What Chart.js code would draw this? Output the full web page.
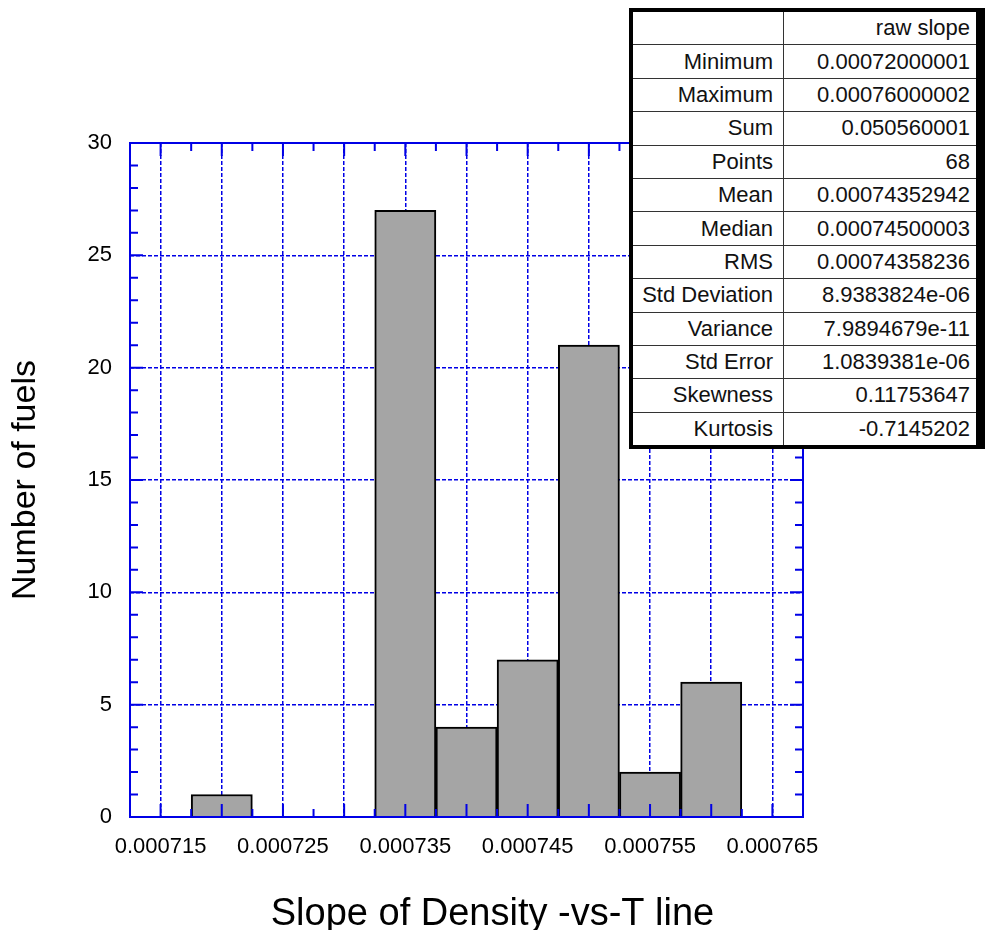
<!DOCTYPE html>
<html lang="en">
<head>
    <meta charset="UTF-8">
    <title>Slope histogram</title>
    <script src="https://cdn.jsdelivr.net/npm/chart.js"></script>
    <style>
        body { margin: 0; background: #fff; }
        #wrap { position: relative; width: 985px; height: 930px; }
        #chart { display: block; }
        #stats {
            position: absolute; left: 629px; top: 8px; width: 356px;
            border-collapse: collapse; background: #fff;
            border-top: 4px solid #000; border-left: 4px solid #000; border-bottom: 4px solid #000; border-right: 9px solid #000;
            font-family: "Liberation Sans", Arial, sans-serif; font-size: 22px; color: #111;
        }
        #stats td { border: 1px solid #333; height: 32.4px; padding: 0 6px 0 0; text-align: right; line-height: 1; }
        #stats td:first-child { width: 140px; padding-right: 10px; }
    </style>
</head>
<body>
<div id="wrap">
    <canvas id="chart" width="985" height="930"></canvas>
    <table id="stats"></table>
</div>

<script>
    // histogram bins (bin centres) and counts
    const binCentres = [0.00072, 0.000735, 0.00074, 0.000745, 0.00075, 0.000755, 0.00076];
    const counts = [1, 27, 4, 7, 21, 2, 6];

    // axis ticks
    const xGridTicks = [0.000715, 0.00072, 0.000725, 0.00073, 0.000735, 0.00074, 0.000745, 0.00075, 0.000755, 0.00076, 0.000765];
    const xTickLabels = ['0.000715', '0.000725', '0.000735', '0.000745', '0.000755', '0.000765'];
    const yTicks = [0, 5, 10, 15, 20, 25, 30];

    // statistics table
    const statHeader = 'raw slope';
    const statNames = ['Minimum', 'Maximum', 'Sum', 'Points', 'Mean', 'Median', 'RMS', 'Std Deviation', 'Variance', 'Std Error', 'Skewness', 'Kurtosis'];
    const statValues = ['0.00072000001', '0.00076000002', '0.050560001', '68', '0.00074352942', '0.00074500003', '0.00074358236', '8.9383824e-06', '7.9894679e-11', '1.0839381e-06', '0.11753647', '-0.7145202'];

    const blue = '#0000e6';
    const font = '"Liberation Sans", Arial, sans-serif';

    // fill the table
    const table = document.getElementById('stats');
    let html = '<tr><td></td><td>' + statHeader + '</td></tr>';
    statNames.forEach((name, i) => {
        html += '<tr><td>' + name + '</td><td>' + statValues[i] + '</td></tr>';
    });
    table.innerHTML = html;

    // frame + inward tick marks like the original plot
    const frameTicks = {
        id: 'frameTicks',
        afterDatasetsDraw(chart) {
            const ctx = chart.ctx;
            const a = chart.chartArea;
            const xs = chart.scales.x;
            const ys = chart.scales.y;
            ctx.save();
            ctx.strokeStyle = blue;
            ctx.lineWidth = 2;
            ctx.beginPath();
            // x ticks, major at grid, minor halfway
            xGridTicks.forEach((v, i) => {
                const px = xs.getPixelForValue(v);
                ctx.moveTo(px, a.bottom); ctx.lineTo(px, a.bottom - 13);
                ctx.moveTo(px, a.top); ctx.lineTo(px, a.top + 13);
                if (i > 0) {
                    const mx = xs.getPixelForValue((v + xGridTicks[i - 1]) / 2);
                    ctx.moveTo(mx, a.bottom); ctx.lineTo(mx, a.bottom - 8);
                    ctx.moveTo(mx, a.top); ctx.lineTo(mx, a.top + 8);
                }
            });
            // y ticks, minor every 1
            for (let v = ys.min; v <= ys.max; v++) {
                const py = ys.getPixelForValue(v);
                const len = v % 5 === 0 ? 13 : 8;
                ctx.moveTo(a.left, py); ctx.lineTo(a.left + len, py);
                ctx.moveTo(a.right, py); ctx.lineTo(a.right - len, py);
            }
            ctx.stroke();
            ctx.strokeRect(a.left, a.top, a.right - a.left, a.bottom - a.top);
            ctx.restore();
        }
    };

    const ctx = document.getElementById('chart');
    const chart = new Chart(ctx, {
        type: 'bar',
        data: {
            datasets: [{
                data: binCentres.map((x, i) => ({ x: x, y: counts[i] })),
                backgroundColor: '#a5a5a5',
                borderColor: '#000',
                borderWidth: 2,
                barPercentage: 1,
                categoryPercentage: 1
            }]
        },
        plugins: [frameTicks],
        options: {
            responsive: false,
            animation: false,
            devicePixelRatio: 1,
            layout: { padding: { left: 0, top: 143, right: 0, bottom: 0 } },
            plugins: {
                legend: { display: false },
                tooltip: { enabled: false },
                title: {
                    display: true,
                    position: 'bottom',
                    text: 'Slope of Density -vs-T line',
                    color: '#000',
                    font: { family: font, size: 38, weight: 'normal' },
                    padding: { top: 0, bottom: -7 }
                }
            },
            scales: {
                x: {
                    type: 'linear',
                    min: 0.0007125,
                    max: 0.0007675,
                    offset: false,
                    afterBuildTicks: (scale) => { scale.ticks = xGridTicks.map(v => ({ value: v })); },
                    afterFit: (scale) => { scale.height = 74.4; },
                    ticks: {
                        autoSkip: false,
                        maxRotation: 0,
                        padding: 17,
                        color: '#000',
                        font: { family: font, size: 22 },
                        callback: (v) => {
                            const s = Number(v).toFixed(6);
                            return xTickLabels.includes(s) ? s : '';
                        }
                    },
                    grid: { color: blue, lineWidth: 1.5, drawTicks: false, offset: false },
                    border: { display: false, dash: [4, 2] }
                },
                y: {
                    min: 0,
                    max: 30,
                    afterBuildTicks: (scale) => { scale.ticks = yTicks.map(v => ({ value: v })); },
                    afterFit: (scale) => { scale.width = 130; },
                    ticks: {
                        padding: 18,
                        color: '#000',
                        font: { family: font, size: 22 }
                    },
                    grid: { color: blue, lineWidth: 1.5, drawTicks: false },
                    border: { display: false, dash: [4, 2] },
                    title: {
                        display: true,
                        text: 'Number of fuels',
                        color: '#000',
                        font: { family: font, size: 34 },
                        padding: { top: 5, bottom: 0 }
                    }
                },
                // empty right-hand scale that reserves the space under the table
                yRight: {
                    position: 'right',
                    min: 0,
                    max: 1,
                    afterFit: (scale) => { scale.width = 182; },
                    ticks: { display: false },
                    grid: { display: false },
                    border: { display: false }
                }
            }
        }
    });
</script>
</body>
</html>
